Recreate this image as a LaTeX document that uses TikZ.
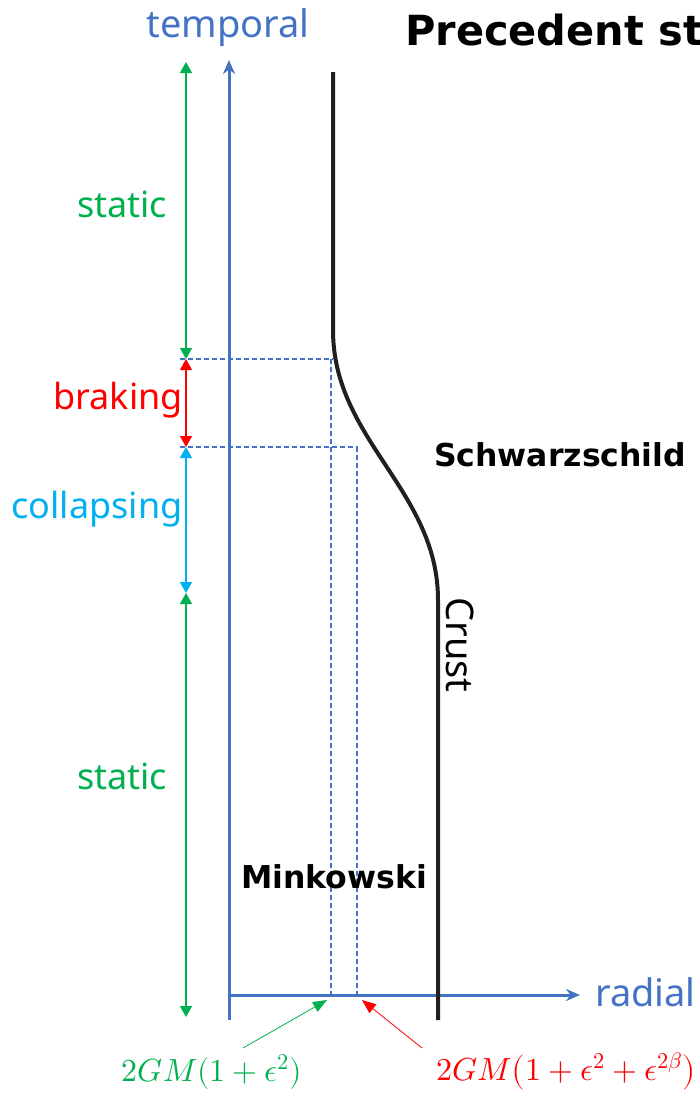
\documentclass[tikz,border=0pt]{standalone}
\usepackage{fontspec}
\usepackage{unicode-math}
\setmainfont{Noto Sans}
\setmathfont{Latin Modern Math}
\newfontfamily\heavyfont{DejaVu Sans Bold}
\usetikzlibrary{arrows.meta}
\definecolor{axblue}{HTML}{4472C4}
\definecolor{pgreen}{HTML}{00B050}
\definecolor{pred}{HTML}{FF0000}
\definecolor{pcyan}{HTML}{00B0F0}
\definecolor{crustc}{HTML}{231F20}
\tikzset{
  axis/.style={draw=axblue, line width=3pt, -{Stealth[length=14pt,width=12pt]}},
  span/.style={line width=1.3pt, {Triangle[length=11pt,width=12pt]}-{Triangle[length=11pt,width=12pt]}},
  guide/.style={draw=axblue, line width=1.2pt, dash pattern=on 5pt off 3pt},
  lbl/.style={font=\fontsize{36}{42}\selectfont, inner sep=0pt},
  biglbl/.style={font=\fontsize{38}{44}\selectfont, inner sep=0pt},
  bold/.style={font=\fontsize{31.5}{36}\selectfont\heavyfont, inner sep=0pt},
  pointer/.style={line width=0.8pt, -{Triangle[length=14pt,width=11pt]}},
  mathlbl/.style={font=\fontsize{32}{38}\selectfont, inner sep=0pt}
}
\begin{document}
\begin{tikzpicture}[x=1pt,y=-1pt]
\useasboundingbox (0,0) rectangle (700,1120);
\clip (0,0) rectangle (700,1120);
% coordinates
\coordinate (tBot) at (229,1020);
\coordinate (tTop) at (229,60);
\coordinate (rL) at (229,995);
\coordinate (rR) at (580,995);
\coordinate (c0) at (333,72);
\coordinate (c1) at (333,330);
\coordinate (c2) at (438,600);
\coordinate (c3) at (438,1020);
\coordinate (h1L) at (180,359);
\coordinate (h1R) at (333,359);
\coordinate (v1T) at (331,359);
\coordinate (v1B) at (331,995);
\coordinate (h2L) at (180,447);
\coordinate (h2R) at (358,447);
\coordinate (v2T) at (357,447);
\coordinate (v2B) at (357,995);
\coordinate (a0) at (186,62);
\coordinate (a1) at (186,359);
\coordinate (a2) at (186,447);
\coordinate (a3) at (186,593);
\coordinate (a4) at (186,1017);
% guides
\draw[guide] (h1L) -- (h1R);
\draw[guide] (v1T) -- (v1B);
\draw[guide] (h2L) -- (h2R);
\draw[guide] (v2T) -- (v2B);
% axes
\draw[axis] (tBot) -- (tTop);
\draw[axis] (rL) -- (rR);
% crust
\draw[crustc, line width=4pt] (c0) -- (c1) .. controls (333,440) and (438,490) .. (c2) -- (c3);
% spans
\draw[span, pgreen] (a0) -- (a1);
\draw[span, pred] (a1) -- (a2);
\draw[span, pcyan] (a2) -- (a3);
\draw[span, pgreen] (a3) -- (a4);
% labels
\node[biglbl, text=axblue] (temporal) at (228,28) {temporal};
\node[biglbl, text=axblue, anchor=west] (radial) at (595,992) {radial};
\node[lbl, text=pgreen] (static1) at (122,204) {static};
\node[lbl, text=pred] (braking) at (118,400) {braking};
\node[lbl, text=pcyan] (collapsing) at (97,509) {collapsing};
\node[lbl, text=pgreen] (static2) at (122,776) {static};
\node[bold] (schw) at (560,455) {Schwarzschild};
\node[bold] (mink) at (334,877) {Minkowski};
\node[biglbl, rotate=-90] (crust) at (460,645) {Crust};
\node[font=\fontsize{41.5}{48}\selectfont\heavyfont, inner sep=0pt, anchor=west] (title) at (405,30) {Precedent st};
% bottom labels
\node[mathlbl, text=pgreen] (g1) at (212,1072) {$2GM(1+\epsilon^{2})$};
\node[mathlbl, text=pred] (g2) at (566,1072) {$2GM\bigl(1+\epsilon^{2}+\epsilon^{2\beta}\bigr)$};
\coordinate (p1) at (327,1000);
\coordinate (p2) at (362,1000);
\draw[pointer, pgreen] (243,1048) -- (p1);
\draw[pointer, pred] (422,1048) -- (p2);
\end{tikzpicture}
\end{document}
